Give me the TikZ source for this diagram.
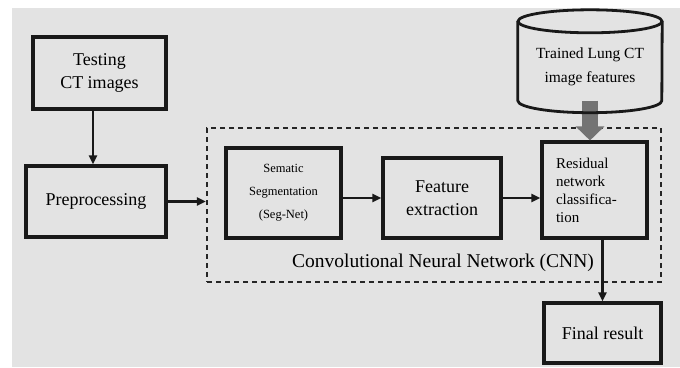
\documentclass[tikz,border=0pt]{standalone}
\usepackage{fontspec}
\setmainfont{Liberation Serif}
\usetikzlibrary{arrows.meta}

\begin{document}
\begin{tikzpicture}[x=1pt,y=-1pt,
  box/.style={draw=black!90,line width=3.1pt,align=center,inner sep=0pt},
  big/.style={font=\fontsize{18}{23}\selectfont},
  flow/.style={-{Triangle[length=9pt,width=8pt]},line width=2.3pt,black!90},
  fat/.style={-{Triangle[length=14pt,width=28pt]},line width=16pt,black!55},
  dashbox/.style={draw=black!85,line width=2.3pt,dash pattern=on 5pt off 4pt}]
  \useasboundingbox (0,0) rectangle (680,367);
  \fill [black!11] (12,8) rectangle (680,367);

  \node [box,big,minimum width=133pt,minimum height=72pt] (test) at (99.5,73) {Testing\\CT images};
  \node [box,big,minimum width=140pt,minimum height=71pt] (prep) at (96,201.5) {Preprocessing};

  \node [dashbox,minimum width=454pt,minimum height=154pt] (cnn) at (434,205) {};
  \node [font=\fontsize{19.5}{22}\selectfont] (cnnlabel) at (443,263) {Convolutional Neural Network (CNN)};

  \node [box,font=\fontsize{12.5}{23}\selectfont,minimum width=115pt,minimum height=90pt] (seg) at (283.5,193) {Sematic\\Segmentation\\(Seg-Net)};
  \node [box,big,minimum width=118pt,minimum height=80pt] (feat) at (442,198) {Feature\\extraction};
  \node [box,font=\fontsize{15}{18}\selectfont,align=left,text width=77pt,minimum width=105pt,minimum height=96pt] (res) at (594.5,190) {Residual\\network\\classifica-\\tion};
  \node [box,big,minimum width=117pt,minimum height=60pt] (final) at (602.5,333) {Final result};

  \node [minimum width=144pt,minimum height=79pt] (db) at (590,61) {};
  \node [font=\fontsize{15.5}{24}\selectfont,align=center] (dbtext) at (590,67) {Trained Lung CT\\image features};

  \draw [fat] (db.south) -- (db.south |- res.north);
  \draw [line width=2.8pt,black!90] (db.north west) -- (db.south west) arc [start angle=180,end angle=360,x radius=72pt,y radius=12pt] -- (db.north east);
  \draw [line width=2.8pt,black!90] (db.north) ellipse [x radius=72pt,y radius=11.5pt];

  \draw [flow] ([xshift=-6.5pt]test.south) -- ([xshift=-6.5pt]test.south |- prep.north);
  \draw [flow] (prep.east) -- (prep.east -| cnn.west);
  \draw [flow] (seg.east |- feat.west) -- (feat.west);
  \draw [flow] (feat.east) -- (feat.east -| res.west);
  \draw [flow] (final.north |- res.south) -- (final.north);

\end{tikzpicture}
\end{document}
